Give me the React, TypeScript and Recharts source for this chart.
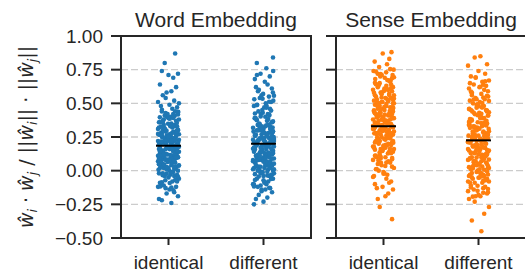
import { ScatterChart, Scatter, XAxis, YAxis, CartesianGrid, ReferenceArea } from 'recharts'

const CATEGORIES = ['identical', 'different']
const Y_TICKS = [-0.5, -0.25, 0, 0.25, 0.5, 0.75, 1]

// strip jitter, in category units
const JITTER = [
  0.03, -0.07, 0.1, -0.02, 0.06, -0.1, 0.01, 0.08, -0.05, -0.09,
  0.04, 0.11, -0.03, -0.08, 0.07, 0.0, -0.11, 0.09, -0.04, 0.02,
  -0.06, 0.05, 0.1, -0.01, -0.09, 0.08, 0.03, -0.07, 0.06, -0.1,
  0.01, -0.05, 0.11, -0.02, 0.04, -0.08, 0.09, 0.0, -0.06, 0.07,
  -0.11, 0.02, -0.04, 0.1, 0.05, -0.03, -0.09, 0.08, 0.03, -0.07,
  0.06, -0.01, 0.11, -0.1, 0.0, 0.04, -0.05, 0.09, -0.08, 0.02,
  0.07, -0.03, -0.11, 0.05, 0.1, -0.06, 0.01, -0.09, 0.08, -0.02,
  0.03, -0.07, 0.06, 0.11, -0.04, -0.1, 0.02, 0.09, -0.01, 0.05,
  -0.08, 0.0, 0.1, -0.05, 0.07, -0.03, 0.04, -0.11, 0.08, -0.06,
  0.01, 0.06, -0.09, 0.03, -0.02, 0.11, -0.07, 0.05, 0.09, -0.04,
  -0.1, 0.02, 0.07, -0.01, -0.08, 0.1, 0.04, -0.05, 0.0, 0.08,
  -0.03, -0.11, 0.06, 0.01, -0.06, 0.09, 0.03, -0.09, 0.11, -0.02,
  0.05, -0.07, 0.08, 0.0, -0.04, 0.1, -0.1, 0.02, 0.07, -0.05,
  -0.01, 0.04, -0.08, 0.11, 0.06, -0.03, 0.09, -0.11, 0.01, -0.06,
  0.03, 0.08, -0.09, -0.02, 0.05, 0.1, -0.07, 0.0, -0.04, 0.07,
  0.052, -0.087, 0.013, -0.034, 0.096, -0.061, 0.028, -0.105, 0.074, -0.018,
  0.107, -0.046, 0.037, -0.093, 0.061, -0.008, 0.084, -0.072, 0.019, -0.027,
  -0.054, 0.091, -0.083, 0.046, -0.013, 0.068, -0.101, 0.024, 0.103, -0.039,
  0.008, -0.066, 0.079, -0.097, 0.033, 0.057, -0.021, 0.099, -0.049, -0.079,
  0.043, -0.004, 0.088, -0.058, 0.014, -0.091, 0.066, -0.031, 0.102, -0.069,
]

const WORD_IDENTICAL = [
  -0.24, -0.22, -0.19, -0.17, -0.16, -0.21,
  -0.14, -0.12, -0.11, -0.09, -0.08, -0.06, -0.13, -0.1, -0.07, -0.05, -0.12, -0.08,
  -0.04, -0.03, -0.02, -0.01, 0.0, 0.01, 0.02, 0.03, 0.04, 0.03, -0.04, -0.02, 0.0, 0.02, 0.04, 0.01, -0.01, 0.03, -0.03, 0.02,
  0.05, 0.06, 0.07, 0.08, 0.09, 0.1, 0.11, 0.12, 0.13, 0.14, 0.06, 0.08, 0.1, 0.12, 0.14, 0.05, 0.07, 0.09, 0.11, 0.13, 0.06, 0.09, 0.12, 0.08, 0.11, 0.14, 0.1,
  0.15, 0.16, 0.17, 0.18, 0.19, 0.2, 0.21, 0.22, 0.23, 0.24, 0.16, 0.18, 0.2, 0.22, 0.24, 0.15, 0.17, 0.19, 0.21, 0.23, 0.16, 0.19, 0.22, 0.18, 0.21, 0.24, 0.17, 0.2,
  0.25, 0.26, 0.27, 0.28, 0.29, 0.3, 0.31, 0.32, 0.33, 0.34, 0.26, 0.28, 0.3, 0.32, 0.34, 0.25, 0.27, 0.29, 0.31, 0.33, 0.27, 0.3, 0.33,
  0.35, 0.36, 0.38, 0.4, 0.42, 0.44, 0.37, 0.39, 0.41, 0.43, 0.36, 0.4, 0.44, 0.38, 0.42,
  0.46, 0.48, 0.5, 0.52, 0.54, 0.47, 0.51, 0.49,
  0.56, 0.59, 0.62, 0.64, 0.58,
  0.69, 0.72, 0.74, 0.71,
  0.8, 0.87,
  -0.145, -0.118, -0.092, -0.071, -0.053, -0.034, -0.015, 0.006, 0.018, 0.027,
  0.036, 0.045, 0.057, 0.064, 0.073, 0.082, 0.095, 0.104, 0.116, 0.125,
  0.133, 0.147, 0.152, 0.163, 0.171, 0.186, 0.194, 0.205, 0.213, 0.226,
  0.238, 0.247, 0.255, 0.266, 0.278, 0.284, 0.297, 0.306, 0.318, 0.327,
  0.339, 0.348, 0.356, 0.371, 0.385, 0.396, 0.407, 0.428, 0.437, 0.452,
  -0.125, -0.087, -0.046, -0.022, 0.012, 0.048, 0.076, 0.098, 0.121, 0.144,
  0.158, 0.177, 0.198, 0.217, 0.234, 0.252, 0.273, 0.291, 0.312, 0.335,
  0.362, 0.392, 0.418, 0.064, 0.113, 0.168, 0.221, 0.263, 0.028, 0.089,
]

const WORD_DIFFERENT = [
  -0.25, -0.23, -0.2, -0.18, -0.16, -0.21,
  -0.14, -0.13, -0.11, -0.1, -0.08, -0.06, -0.12, -0.09, -0.07, -0.05, -0.14, -0.1, -0.06,
  -0.04, -0.02, 0.0, 0.02, 0.04, -0.03, -0.01, 0.01, 0.03, -0.04, 0.0, 0.03, 0.02, -0.02, 0.04, 0.01, -0.03, 0.0, 0.02,
  0.05, 0.06, 0.07, 0.08, 0.09, 0.1, 0.11, 0.12, 0.13, 0.14, 0.05, 0.07, 0.09, 0.11, 0.13, 0.06, 0.08, 0.1, 0.12, 0.14, 0.07, 0.1, 0.13, 0.09,
  0.15, 0.16, 0.17, 0.18, 0.19, 0.2, 0.21, 0.22, 0.23, 0.24, 0.15, 0.17, 0.19, 0.21, 0.23, 0.16, 0.18, 0.2, 0.22, 0.24, 0.17, 0.2, 0.23, 0.19, 0.22, 0.18,
  0.25, 0.26, 0.27, 0.28, 0.29, 0.3, 0.31, 0.32, 0.33, 0.34, 0.26, 0.28, 0.3, 0.32, 0.34, 0.27, 0.29, 0.31, 0.33, 0.25,
  0.35, 0.37, 0.39, 0.41, 0.43, 0.36, 0.38, 0.4, 0.42, 0.44, 0.36, 0.39, 0.42, 0.45,
  0.46, 0.48, 0.5, 0.52, 0.54, 0.47, 0.49, 0.51, 0.53, 0.48, 0.55,
  0.56, 0.58, 0.6, 0.62, 0.64, 0.57, 0.61, 0.59,
  0.66, 0.68, 0.7, 0.72, 0.74, 0.71,
  0.76, 0.8, 0.84,
  -0.152, -0.127, -0.104, -0.083, -0.061, -0.044, -0.026, -0.008, 0.011, 0.029,
  0.043, 0.058, 0.067, 0.079, 0.088, 0.097, 0.106, 0.118, 0.127, 0.139,
  0.146, 0.158, 0.167, 0.176, 0.188, 0.196, 0.207, 0.218, 0.227, 0.236,
  0.248, 0.257, 0.268, 0.277, 0.286, 0.298, 0.309, 0.318, 0.329, 0.347,
  0.366, 0.384, 0.403, 0.425, 0.446, 0.468, 0.487, 0.512, 0.534, 0.557,
  -0.117, -0.072, -0.035, 0.004, 0.036, 0.071, 0.093, 0.122, 0.143, 0.163,
  0.184, 0.203, 0.224, 0.243, 0.264, 0.283, 0.304, 0.336, 0.374, 0.417,
  0.052, 0.113, 0.172, 0.212, 0.253, -0.016, 0.134, 0.193, 0.232, 0.292,
]

const SENSE_IDENTICAL = [
  -0.36, -0.27, -0.19, -0.21, -0.17,
  -0.14, -0.12, -0.1, -0.08, -0.06, -0.13, -0.09,
  -0.04, -0.02, 0.0, 0.02, 0.04, -0.03, 0.01, 0.03, -0.01,
  0.05, 0.06, 0.08, 0.1, 0.12, 0.14, 0.07, 0.09, 0.11, 0.13, 0.06, 0.1, 0.14,
  0.15, 0.16, 0.17, 0.18, 0.19, 0.2, 0.21, 0.22, 0.23, 0.24, 0.16, 0.18, 0.2, 0.22, 0.24, 0.17, 0.21, 0.19,
  0.25, 0.26, 0.27, 0.28, 0.29, 0.3, 0.31, 0.32, 0.33, 0.34, 0.26, 0.28, 0.3, 0.32, 0.34, 0.25, 0.27, 0.29, 0.31, 0.33, 0.28, 0.31,
  0.35, 0.36, 0.37, 0.38, 0.39, 0.4, 0.41, 0.42, 0.43, 0.44, 0.36, 0.38, 0.4, 0.42, 0.44, 0.35, 0.37, 0.39, 0.41, 0.43, 0.38, 0.42,
  0.45, 0.46, 0.47, 0.48, 0.49, 0.5, 0.51, 0.52, 0.53, 0.54, 0.46, 0.48, 0.5, 0.52, 0.54, 0.47, 0.49, 0.51, 0.53,
  0.55, 0.56, 0.57, 0.58, 0.59, 0.6, 0.61, 0.62, 0.63, 0.64, 0.56, 0.58, 0.6, 0.62, 0.64, 0.59,
  0.65, 0.66, 0.67, 0.68, 0.69, 0.7, 0.71, 0.72, 0.73, 0.74, 0.67, 0.71,
  0.75, 0.77, 0.79, 0.81, 0.83, 0.87, 0.88,
  0.012, 0.035, 0.058, 0.076, 0.094, 0.113, 0.128, 0.146, 0.163, 0.178,
  0.192, 0.207, 0.221, 0.236, 0.248, 0.262, 0.277, 0.289, 0.303, 0.316,
  0.327, 0.339, 0.352, 0.364, 0.377, 0.388, 0.402, 0.416, 0.427, 0.443,
  0.457, 0.468, 0.483, 0.496, 0.512, 0.527, 0.543, 0.562, 0.578, 0.596,
  0.613, 0.634, 0.652, 0.673, 0.694, 0.718, 0.736, 0.754, -0.023, -0.047,
  0.084, 0.137, 0.171, 0.214, 0.243, 0.268, 0.294, 0.322, 0.346, 0.371,
  0.395, 0.421, 0.448, 0.474, 0.503, 0.536, 0.567, 0.604, 0.642, 0.687,
  0.186, 0.228, 0.281, 0.333, 0.358, 0.412, 0.462, 0.518, 0.103, 0.156,
]

const SENSE_DIFFERENT = [
  -0.45, -0.37, -0.32, -0.27, -0.23, -0.21,
  -0.19, -0.17, -0.15, -0.13, -0.11, -0.18, -0.16, -0.14, -0.12, -0.19,
  -0.09, -0.08, -0.07, -0.06, -0.05, -0.04, -0.03, -0.02, -0.01, -0.08, -0.05, -0.03, -0.06, -0.09, -0.04, -0.02, -0.07,
  0.0, 0.01, 0.02, 0.03, 0.04, 0.05, 0.06, 0.07, 0.08, 0.09, 0.01, 0.03, 0.05, 0.07, 0.09, 0.02, 0.04, 0.08,
  0.1, 0.11, 0.12, 0.13, 0.14, 0.15, 0.16, 0.17, 0.18, 0.19, 0.11, 0.13, 0.15, 0.17, 0.19, 0.12, 0.16, 0.14, 0.18, 0.1,
  0.2, 0.21, 0.22, 0.23, 0.24, 0.25, 0.26, 0.27, 0.28, 0.29, 0.21, 0.23, 0.25, 0.27, 0.29, 0.22, 0.26, 0.24,
  0.3, 0.31, 0.32, 0.33, 0.34, 0.35, 0.36, 0.37, 0.38, 0.39, 0.31, 0.33, 0.35, 0.37, 0.39, 0.32, 0.36, 0.34,
  0.4, 0.41, 0.42, 0.43, 0.44, 0.45, 0.46, 0.47, 0.48, 0.49, 0.41, 0.43, 0.45, 0.47, 0.49, 0.44,
  0.5, 0.51, 0.52, 0.53, 0.54, 0.55, 0.56, 0.57, 0.58, 0.59, 0.53,
  0.6, 0.61, 0.62, 0.63, 0.64, 0.65, 0.66, 0.67, 0.69,
  0.7, 0.72, 0.74, 0.78, 0.79, 0.84, 0.85,
  -0.193, -0.164, -0.137, -0.112, -0.088, -0.063, -0.041, -0.018, 0.007, 0.026,
  0.044, 0.063, 0.082, 0.098, 0.117, 0.134, 0.153, 0.168, 0.186, 0.203,
  0.219, 0.236, 0.252, 0.267, 0.283, 0.301, 0.318, 0.336, 0.353, 0.372,
  0.391, 0.412, 0.434, 0.457, 0.478, 0.503, 0.528, 0.556, 0.587, 0.623,
  0.664, 0.693, -0.152, -0.074, -0.029, 0.016, 0.053, 0.091, 0.126, 0.161,
  0.194, 0.227, 0.258, 0.292, 0.327, 0.362, 0.403, 0.446, 0.492, 0.543,
  -0.124, -0.053, 0.034, 0.072, 0.108, 0.143, 0.177, 0.211, 0.246, 0.276,
  0.312, 0.344, 0.383, 0.423, 0.468, 0.517, 0.572, 0.638, -0.006, 0.245,
]

// means drawn as black bars
const WORD_MEANS = [0.185, 0.2]
const SENSE_MEANS = [0.33, 0.225]

const BLUE = '#1f77b4'
const ORANGE = '#ff7f0e'
const INK = '#262626'
const FONT = '"Liberation Sans", Arial, sans-serif'

function toPoints(values: number[], cat: number, offset: number) {
  return values.map((v, i) => ({ x: cat + JITTER[(i + offset) % JITTER.length], y: v }))
}

function fmtTick(v: number) {
  const s = Math.abs(v).toFixed(2)
  return v < 0 ? `\u2212${s}` : s
}

const Dot = (color: string) => (props: any) => (
  <circle cx={props.cx} cy={props.cy} r={2.3} fill={color} />
)

const MeanBar = (props: any) => (
  <line x1={props.cx - 12.5} x2={props.cx + 12.5} y1={props.cy} y2={props.cy} stroke='#000000' strokeWidth={2} />
)

interface PanelProps {
  strips: number[][]
  means: number[]
  color: string
  left: number
  width: number
  axisWidth: number
  marginRight: number
  showLabels: boolean
  offset: number
}

function Panel({ strips, means, color, left, width, axisWidth, marginRight, showLabels, offset }: PanelProps) {
  return (
    <div style={{ position: 'absolute', left, top: 0 }}>
      <ScatterChart
        width={width}
        height={277}
        margin={{ top: 36, right: marginRight, bottom: 0, left: 0 }}
      >
        <CartesianGrid vertical={false} stroke='#cccccc' strokeWidth={1.4} strokeDasharray='7 3' />
        <XAxis
          dataKey='x'
          type='number'
          domain={[-0.5, 1.5]}
          ticks={[0, 1]}
          tickFormatter={(v) => CATEGORIES[v]}
          height={39}
          axisLine={false}
          tickSize={7}
          tickMargin={11}
          tickLine={{ stroke: INK, strokeWidth: 2 }}
          tick={{ fontSize: 19, fill: INK }}
          allowDataOverflow
        />
        <YAxis
          dataKey='y'
          type='number'
          domain={[-0.5, 1]}
          ticks={Y_TICKS}
          width={axisWidth}
          axisLine={false}
          tickSize={10}
          tickMargin={8}
          tickLine={{ stroke: INK, strokeWidth: 2 }}
          tickFormatter={showLabels ? fmtTick : () => ''}
          tick={{ fontSize: 19, fill: INK }}
          allowDataOverflow
        />
        {strips.map((vals, c) => (
          <Scatter
            key={c}
            data={toPoints(vals, c, offset + c * 53)}
            shape={Dot(color)}
            isAnimationActive={false}
          />
        ))}
        <Scatter
          data={means.map((m, c) => ({ x: c, y: m }))}
          shape={MeanBar}
          isAnimationActive={false}
        />
        <ReferenceArea
          x1={-0.5}
          x2={1.5}
          y1={-0.5}
          y2={1}
          fill='none'
          fillOpacity={0}
          stroke={INK}
          strokeWidth={2}
          ifOverflow='visible'
        />
      </ScatterChart>
    </div>
  )
}

export default function App() {
  const sub = { fontSize: 12.5, fontStyle: 'italic' as const }
  return (
    <div
      style={{
        position: 'absolute',
        left: 0,
        top: 0,
        width: 525,
        height: 277,
        overflow: 'hidden',
        background: '#ffffff',
        fontFamily: FONT,
      }}
    >
      <Panel
        strips={[WORD_IDENTICAL, WORD_DIFFERENT]}
        means={WORD_MEANS}
        color={BLUE}
        left={0}
        width={330}
        axisWidth={121}
        marginRight={19}
        showLabels
        offset={0}
      />
      <Panel
        strips={[SENSE_IDENTICAL, SENSE_DIFFERENT]}
        means={SENSE_MEANS}
        color={ORANGE}
        left={311}
        width={230}
        axisWidth={25}
        marginRight={15}
        showLabels={false}
        offset={17}
      />
      <svg width={525} height={277} style={{ position: 'absolute', left: 0, top: 0, pointerEvents: 'none' }}>
        <text x={216} y={27} textAnchor='middle' fontSize={21} fill={INK}>Word Embedding</text>
        <text x={431} y={27} textAnchor='middle' fontSize={21} fill={INK}>Sense Embedding</text>
        <text
          x={33}
          y={137}
          transform='rotate(-90 33 137)'
          textAnchor='middle'
          fontSize={19}
          fill={INK}
          fontFamily='"DejaVu Sans", sans-serif'
        >
          <tspan fontStyle='italic'>ŵ</tspan>
          <tspan dy={4} style={sub}>i</tspan>
          <tspan dy={-4}> · </tspan>
          <tspan fontStyle='italic'>ŵ</tspan>
          <tspan dy={4} style={sub}>j</tspan>
          <tspan dy={-4}> / ||</tspan>
          <tspan fontStyle='italic'>ŵ</tspan>
          <tspan dy={4} style={sub}>i</tspan>
          <tspan dy={-4}>|| · ||</tspan>
          <tspan fontStyle='italic'>ŵ</tspan>
          <tspan dy={4} style={sub}>j</tspan>
          <tspan dy={-4}>||</tspan>
        </text>
      </svg>
    </div>
  )
}
